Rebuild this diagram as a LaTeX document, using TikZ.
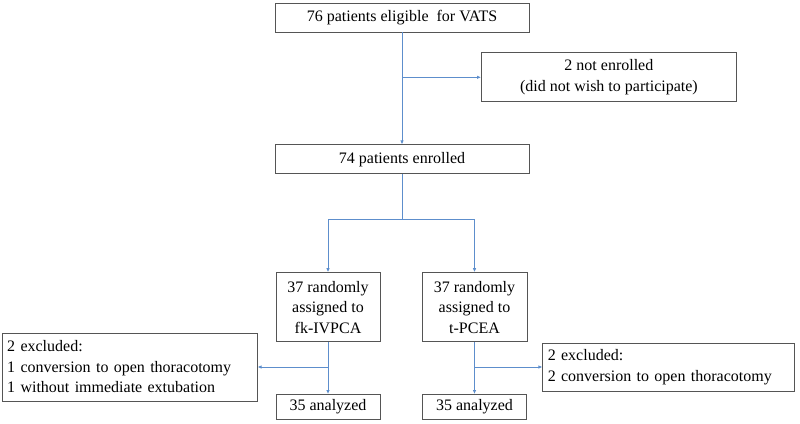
\documentclass[tikz,border=0pt]{standalone}
\usepackage{fontspec}
\setmainfont{Liberation Serif}
\usetikzlibrary{arrows.meta,positioning}
\definecolor{linkblue}{RGB}{93,142,204}
\definecolor{boxgray}{RGB}{85,85,85}

\begin{document}
\begin{tikzpicture}[x=1pt, y=1pt, every node/.style={font=\fontsize{16}{20.5}\selectfont},
    box/.style={draw=boxgray, line width=0.8pt, inner xsep=5pt, inner ysep=0pt, align=center},
    link/.style={-{Latex[length=4pt,width=3.5pt]}, linkblue, line width=0.8pt}]
  \useasboundingbox[fill=white] (0,0) rectangle (800,-423);
  % main column
  \node[box, minimum width=254pt, minimum height=29pt] (eligible) at (402,-17.5) {76 patients eligible\ \ for VATS};
  \node[box, minimum width=255pt, minimum height=49pt, below right=20pt and 79pt of eligible.south] (notenr) {2 not enrolled\\(did not wish to participate)};
  \node[box, minimum width=254pt, minimum height=29pt, below=112pt of eligible] (enrolled) {74 patients enrolled};
  % two arms
  \node[box, minimum width=104pt, minimum height=69pt, below=98pt of enrolled, xshift=-74pt] (fk) {37 randomly\\assigned to\\fk-IVPCA};
  \node[box, minimum width=105pt, minimum height=69pt, below=98pt of enrolled, xshift=72.5pt] (tp) {37 randomly\\assigned to\\t-PCEA};
  \node[box, minimum width=104pt, minimum height=25pt, below=52pt of fk] (fkana) {35 analyzed};
  \node[box, minimum width=104pt, minimum height=25pt, below=52pt of tp] (tpana) {35 analyzed};
  \node[box, text width=245pt, minimum height=68pt, align=left, below left=25.5pt and 18pt of fk.west] (fkex) {2 excluded:\\1 conversion to open thoracotomy\\1 without immediate extubation};
  \node[box, text width=242pt, minimum height=48pt, align=left, below right=35.5pt and 15pt of tp.east] (tpex) {2 excluded:\\2 conversion to open thoracotomy};

  \coordinate[below=45pt of enrolled.south] (split);

  \draw[link] (eligible) -- (enrolled);
  \draw[link] (eligible.south |- notenr.west) -- (notenr.west);
  \draw[link, -] (enrolled) -- (split);
  \draw[link] (split) -| (fk.north);
  \draw[link] (split) -| (tp.north);
  \draw[link] (fk) -- (fkana);
  \draw[link] (fk.south |- fkex.east) -- (fkex.east);
  \draw[link] (tp) -- (tpana);
  \draw[link] (tp.south |- tpex.west) -- (tpex.west);
\end{tikzpicture}
\end{document}
